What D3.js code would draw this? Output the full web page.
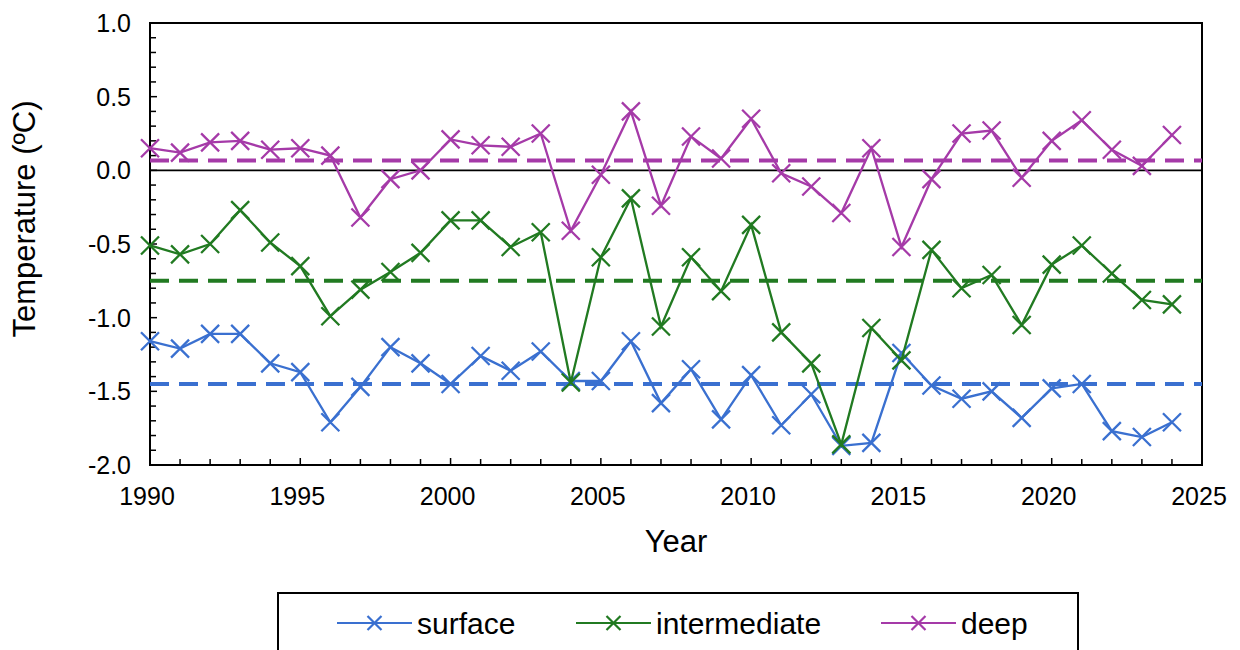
<!DOCTYPE html>
<html>
<head>
<meta charset="utf-8">
<script src="https://cdn.jsdelivr.net/npm/d3@7"></script>
<style>
  body { margin: 0; background: #fff; }
  svg { display: block; font-family: "Liberation Sans", Arial, sans-serif; }
</style>
</head>
<body>
<div id="chart"></div>
<script>
// data
var years = d3.range(1990, 2025);
var surface = [-1.16, -1.21, -1.11, -1.11, -1.31, -1.37, -1.71, -1.47, -1.20, -1.31,
               -1.45, -1.26, -1.36, -1.23, -1.43, -1.43, -1.16, -1.58, -1.35, -1.69,
               -1.39, -1.73, -1.52, -1.87, -1.85, -1.24, -1.46, -1.55, -1.50, -1.68,
               -1.48, -1.45, -1.77, -1.81, -1.71];
var intermediate = [-0.51, -0.57, -0.50, -0.27, -0.49, -0.65, -0.99, -0.81, -0.69, -0.56,
                    -0.34, -0.34, -0.52, -0.42, -1.44, -0.59, -0.19, -1.06, -0.59, -0.82,
                    -0.37, -1.10, -1.31, -1.86, -1.07, -1.29, -0.54, -0.80, -0.71, -1.05,
                    -0.64, -0.51, -0.70, -0.88, -0.91];
var deep = [0.15, 0.12, 0.19, 0.20, 0.14, 0.15, 0.10, -0.32, -0.06, 0.00,
            0.21, 0.17, 0.16, 0.25, -0.41, -0.03, 0.40, -0.24, 0.23, 0.08,
            0.35, -0.02, -0.11, -0.29, 0.15, -0.52, -0.06, 0.25, 0.27, -0.05,
            0.20, 0.34, 0.14, 0.03, 0.24];
var means = [-1.45, -0.75, 0.066];
var seriesNames = ["surface", "intermediate", "deep"];
var colors = ["#3a70d0", "#217a21", "#a53aa8"];
var xTickLabels = [1990, 1995, 2000, 2005, 2010, 2015, 2020, 2025];
var yTickLabels = [1.0, 0.5, 0.0, -0.5, -1.0, -1.5, -2.0];

(function(){
var W = 1240, H = 650;
var m = {left: 150, right: 1202, top: 23, bottom: 465};

var svg = d3.select("#chart").append("svg")
    .attr("width", W).attr("height", H);

var x = d3.scaleLinear().domain([1990, 2025]).range([m.left, m.right]);
var y = d3.scaleLinear().domain([-2, 1]).range([m.bottom, m.top]);

// plot frame
svg.append("rect")
    .attr("x", m.left).attr("y", m.top)
    .attr("width", m.right - m.left).attr("height", m.bottom - m.top)
    .attr("fill", "none").attr("stroke", "#000").attr("stroke-width", 2);

// y ticks (inside), every 0.1
var yMinor = d3.range(-20, 11).map(function(d){ return d / 10; });
svg.append("g").selectAll("line")
    .data(yMinor).enter().append("line")
    .attr("x1", m.left).attr("x2", function(d){ return m.left + (Math.round(d*10) % 5 === 0 ? 7 : 6); })
    .attr("y1", function(d){ return y(d); }).attr("y2", function(d){ return y(d); })
    .attr("stroke", "#000").attr("stroke-width", 1.5);

svg.append("g").selectAll("text")
    .data(yTickLabels).enter().append("text")
    .attr("x", 131).attr("y", function(d){ return y(d) + 9; })
    .attr("text-anchor", "end")
    .attr("font-size", 25)
    .text(function(d){ return d3.format(".1f")(d).replace("−", "-"); });

// x ticks (inside), every year
svg.append("g").selectAll("line")
    .data(d3.range(1990, 2026)).enter().append("line")
    .attr("x1", function(d){ return x(d); }).attr("x2", function(d){ return x(d); })
    .attr("y1", m.bottom).attr("y2", function(d){ return m.bottom - (d % 5 === 0 ? 7 : 6); })
    .attr("stroke", "#000").attr("stroke-width", 1.5);

svg.append("g").selectAll("text")
    .data(xTickLabels).enter().append("text")
    .attr("x", function(d){ return x(d) - 3; }).attr("y", 505)
    .attr("text-anchor", "middle")
    .attr("font-size", 25)
    .text(function(d){ return d; });

// zero line
svg.append("line")
    .attr("x1", m.left).attr("x2", m.right)
    .attr("y1", y(0)).attr("y2", y(0))
    .attr("stroke", "#000").attr("stroke-width", 1.8);

// axis titles
svg.append("text")
    .attr("transform", "translate(35," + ((m.top + m.bottom) / 2 - 25) + ") rotate(-90)")
    .attr("text-anchor", "middle")
    .attr("font-size", 31)
    .text("Temperature (ºC)");

svg.append("text")
    .attr("x", (m.left + m.right) / 2).attr("y", 552)
    .attr("text-anchor", "middle")
    .attr("font-size", 31)
    .text("Year");

// mean dashed lines
svg.append("g").selectAll("line")
    .data(means).enter().append("line")
    .attr("x1", m.left).attr("x2", m.right)
    .attr("y1", function(d){ return y(d); }).attr("y2", function(d){ return y(d); })
    .attr("stroke", function(d, i){ return colors[i]; })
    .attr("stroke-width", 4)
    .attr("stroke-dasharray", "19,10");

function cross(g, cx, cy, r, color, w){
    g.append("path")
        .attr("d", "M" + (cx - r) + "," + (cy - r) + "L" + (cx + r) + "," + (cy + r) +
                   "M" + (cx - r) + "," + (cy + r) + "L" + (cx + r) + "," + (cy - r))
        .attr("stroke", color).attr("stroke-width", w).attr("fill", "none");
}

var allSeries = [surface, intermediate, deep];
var line = d3.line()
    .x(function(d, i){ return x(years[i]); })
    .y(function(d){ return y(d); });

allSeries.forEach(function(vals, s){
    var g = svg.append("g");
    g.append("path")
        .datum(vals)
        .attr("d", line)
        .attr("fill", "none")
        .attr("stroke", colors[s])
        .attr("stroke-width", 2.3);
    vals.forEach(function(v, i){
        cross(g, x(years[i]), y(v), 9, colors[s], 2.3);
    });
});

// legend
var legend = svg.append("g");
legend.append("rect")
    .attr("x", 278).attr("y", 593)
    .attr("width", 800).attr("height", 80)
    .attr("fill", "#fff").attr("stroke", "#000").attr("stroke-width", 2);

var legendX = [337, 576, 881];
seriesNames.forEach(function(name, i){
    var lx = legendX[i], ly = 623;
    legend.append("line")
        .attr("x1", lx).attr("x2", lx + 75)
        .attr("y1", ly).attr("y2", ly)
        .attr("stroke", colors[i]).attr("stroke-width", 2.2);
    cross(legend, lx + 37.5, ly, 7, colors[i], 2.2);
    legend.append("text")
        .attr("x", lx + 80).attr("y", ly + 11)
        .attr("font-size", 30)
        .text(name);
});
})();
</script>
</body>
</html>
